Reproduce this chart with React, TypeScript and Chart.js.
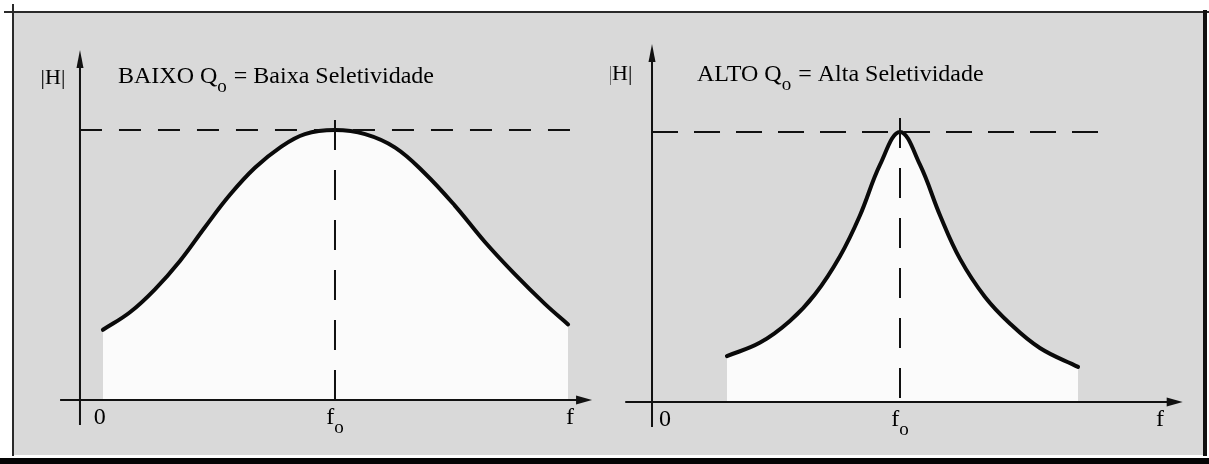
import React, { useEffect, useRef } from "react";
import { Chart, registerables } from "chart.js";

Chart.register(...registerables);

// ---- data ----
const centerFreq = 5;
const peakGain = 1;

const lowQFreq = [0.45, 0.98, 1.47, 1.96, 2.45, 2.94, 3.43, 3.92, 4.41, 5.0, 5.59, 6.18, 6.76, 7.35, 7.94, 8.53, 9.12, 9.57];
const lowQGain = [0.26, 0.325, 0.41, 0.515, 0.64, 0.76, 0.86, 0.935, 0.985, 1.0, 0.985, 0.935, 0.84, 0.72, 0.585, 0.465, 0.355, 0.28];

const highQFreq = [1.51, 2.18, 2.78, 3.29, 3.79, 4.19, 4.6, 5.0, 5.4, 5.81, 6.21, 6.71, 7.22, 7.82, 8.59];
const highQGain = [0.17, 0.22, 0.3, 0.4, 0.54, 0.69, 0.88, 1.0, 0.88, 0.69, 0.53, 0.39, 0.29, 0.2, 0.13];

const tickLabels = [["0"], ["f", "o"], ["f"]];
const lowQTickPos = [0.39, 5, 9.61];
const highQTickPos = [0.26, 5, 10.24];

const lowQTitle = ["BAIXO Q", "o", " = Baixa Seletividade"];
const highQTitle = ["ALTO Q", "o", " = Alta Seletividade"];
const yAxisLabel = "|H|";

// ---- panel configuration ----
type Panel = {
  freq: number[];
  gain: number[];
  tickPos: number[];
  title: string[];
  xRange: [number, number];
  yRange: [number, number];
  xAxis: [number, number];
  yAxis: [number, number];
  dashEnd: number;
  vDashTop: number;
  hLabel: [number, number];
  titlePos: [number, number];
  tickY: number;
  hDash: number[];
  vDash: number[];
};

const panels: Panel[] = [
  {
    freq: lowQFreq,
    gain: lowQGain,
    tickPos: lowQTickPos,
    title: lowQTitle,
    xRange: [-1.176, 10.196],
    yRange: [-0.1852, 1.4074],
    xAxis: [-0.39, 10.04],
    yAxis: [-0.093, 1.296],
    dashEnd: 9.9,
    vDashTop: 1.037,
    hLabel: [-0.53, 1.17],
    titlePos: [0.745, 1.174],
    tickY: -0.089,
    hDash: [22, 17],
    vDash: [30, 20],
  },
  {
    freq: highQFreq,
    gain: highQGain,
    tickPos: highQTickPos,
    title: highQTitle,
    xRange: [-0.847, 10.847],
    yRange: [-0.1778, 1.4148],
    xAxis: [-0.54, 10.7],
    yAxis: [-0.093, 1.326],
    dashEnd: 9.07,
    vDashTop: 1.052,
    hLabel: [-0.645, 1.193],
    titlePos: [0.907, 1.189],
    tickY: -0.089,
    hDash: [26, 16],
    vDash: [30, 20],
  },
];

const FONT = '"Liberation Serif", "DejaVu Serif", serif';
const INK = "#111111";

function drawRich(ctx: CanvasRenderingContext2D, parts: string[], x: number, y: number, size: number, align: "left" | "center") {
  const widths: number[] = [];
  let total = 0;
  parts.forEach((t, i) => {
    const sub = i % 2 === 1;
    ctx.font = `${sub ? Math.round(size * 0.78) : size}px ${FONT}`;
    const w = ctx.measureText(t).width;
    widths.push(w);
    total += w;
  });
  let cx = align === "center" ? x - total / 2 : x;
  parts.forEach((t, i) => {
    const sub = i % 2 === 1;
    ctx.font = `${sub ? Math.round(size * 0.78) : size}px ${FONT}`;
    ctx.textAlign = "left";
    ctx.textBaseline = "alphabetic";
    ctx.fillText(t, cx, sub ? y + size * 0.38 : y);
    cx += widths[i] + (sub ? 1 : 0);
  });
}

const diagramPlugin = {
  id: "diagram",
  afterDatasetsDraw(chart: any, _args: any, opts: any) {
    const p: Panel = opts.panel;
    if (!p) return;
    const { ctx } = chart;
    const xs = chart.scales.x;
    const ys = chart.scales.y;
    ctx.save();
    ctx.strokeStyle = INK;
    ctx.fillStyle = INK;
    ctx.lineWidth = 2;
    ctx.setLineDash([]);

    // x axis with arrow
    const y0 = ys.getPixelForValue(0);
    const xa0 = xs.getPixelForValue(p.xAxis[0]);
    const xa1 = xs.getPixelForValue(p.xAxis[1]);
    ctx.beginPath();
    ctx.moveTo(xa0, y0);
    ctx.lineTo(xa1 - 8, y0);
    ctx.stroke();
    ctx.beginPath();
    ctx.moveTo(xa1, y0);
    ctx.lineTo(xa1 - 16, y0 - 4.5);
    ctx.lineTo(xa1 - 16, y0 + 4.5);
    ctx.closePath();
    ctx.fill();

    // y axis with arrow
    const x0 = xs.getPixelForValue(0);
    const ya0 = ys.getPixelForValue(p.yAxis[0]);
    const ya1 = ys.getPixelForValue(p.yAxis[1]);
    ctx.beginPath();
    ctx.moveTo(x0, ya0);
    ctx.lineTo(x0, ya1 + 8);
    ctx.stroke();
    ctx.beginPath();
    ctx.moveTo(x0, ya1);
    ctx.lineTo(x0 - 3.5, ya1 + 18);
    ctx.lineTo(x0 + 3.5, ya1 + 18);
    ctx.closePath();
    ctx.fill();

    // labels
    ctx.fillStyle = "#000";
    ctx.font = `22px ${FONT}`;
    ctx.textAlign = "center";
    ctx.textBaseline = "alphabetic";
    ctx.fillText(yAxisLabel, xs.getPixelForValue(p.hLabel[0]), ys.getPixelForValue(p.hLabel[1]));

    drawRich(ctx, p.title, xs.getPixelForValue(p.titlePos[0]), ys.getPixelForValue(p.titlePos[1]), 24, "left");

    const ty = ys.getPixelForValue(p.tickY);
    tickLabels.forEach((parts, i) => {
      drawRich(ctx, parts, xs.getPixelForValue(p.tickPos[i]), ty, 24, "center");
    });
    ctx.restore();
  },
};

function PanelChart({ panel, left }: { panel: Panel; left: number }) {
  const ref = useRef<HTMLCanvasElement | null>(null);
  useEffect(() => {
    if (!ref.current) return;
    const curve = panel.freq.map((f, i) => ({ x: f, y: panel.gain[i] }));
    const chart = new Chart(ref.current, {
      type: "line",
      data: {
        datasets: [
          {
            data: [
              { x: 0, y: peakGain },
              { x: panel.dashEnd, y: peakGain },
            ],
            borderColor: INK,
            borderWidth: 2,
            borderDash: panel.hDash,
            pointRadius: 0,
            fill: false,
            order: 1,
          } as any,
          {
            data: [
              { x: centerFreq, y: panel.vDashTop },
              { x: centerFreq, y: 0 },
            ],
            borderColor: INK,
            borderWidth: 2,
            borderDash: panel.vDash,
            pointRadius: 0,
            fill: false,
            order: 1,
          } as any,
          {
            data: curve,
            borderColor: "#0a0a0a",
            borderWidth: 4,
            backgroundColor: "#fbfbfb",
            fill: "origin",
            pointRadius: 0,
            tension: 0.4,
            borderCapStyle: "round",
            borderJoinStyle: "round",
            order: 2,
          } as any,
        ],
      },
      options: {
        animation: false,
        responsive: false,
        maintainAspectRatio: false,
        layout: { padding: 0 },
        events: [],
        scales: {
          x: { type: "linear", min: panel.xRange[0], max: panel.xRange[1], display: false },
          y: { type: "linear", min: panel.yRange[0], max: panel.yRange[1], display: false },
        },
        plugins: {
          legend: { display: false },
          tooltip: { enabled: false },
          diagram: { panel },
        } as any,
      },
      plugins: [diagramPlugin],
    });
    return () => chart.destroy();
  }, [panel]);
  return (
    <canvas
      ref={ref}
      width={580}
      height={430}
      style={{ position: "absolute", left, top: 20, width: 580, height: 430 }}
    />
  );
}

export default function App() {
  return (
    <div
      style={{
        position: "absolute",
        left: 0,
        top: 0,
        width: 1209,
        height: 464,
        background: "#ffffff",
        overflow: "hidden",
      }}
    >
      <div style={{ position: "absolute", left: 14, top: 13, width: 1189, height: 442, background: "#d9d9d9" }} />
      <div style={{ position: "absolute", left: 4, top: 11, width: 1205, height: 2, background: "#2a2a2a" }} />
      <div style={{ position: "absolute", left: 12, top: 4, width: 2, height: 452, background: "#2a2a2a" }} />
      <div style={{ position: "absolute", left: 1203, top: 10, width: 4, height: 446, background: "#111" }} />
      <div style={{ position: "absolute", left: 0, top: 458, width: 1209, height: 6, background: "#050505" }} />
      <PanelChart panel={panels[0]} left={20} />
      <PanelChart panel={panels[1]} left={610} />
    </div>
  );
}
